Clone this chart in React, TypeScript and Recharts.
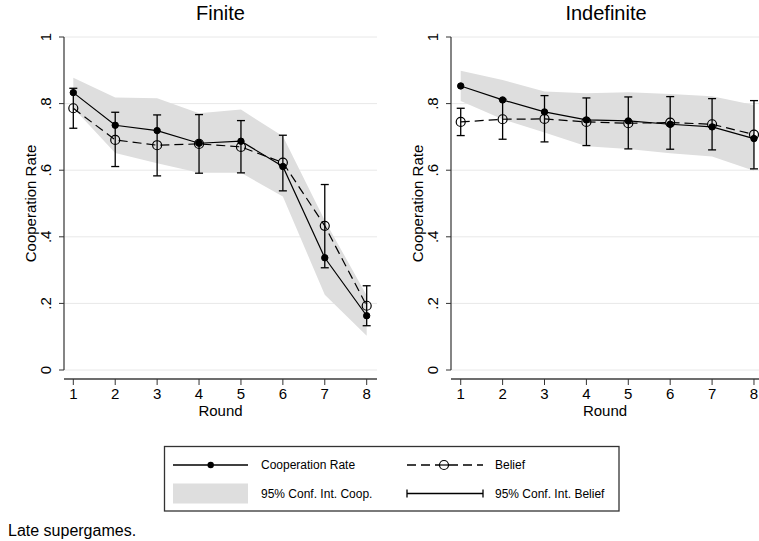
import {
  Area,
  CartesianGrid,
  ComposedChart,
  ErrorBar,
  Label,
  Line,
  ReferenceLine,
  XAxis,
  YAxis,
} from "recharts";

const rounds = [1, 2, 3, 4, 5, 6, 7, 8];
const yTicks = [0, 0.2, 0.4, 0.6, 0.8, 1];

// Finite horizon
const finiteCoop = [0.833, 0.735, 0.719, 0.681, 0.687, 0.611, 0.337, 0.163];
const finiteCoopLow = [0.787, 0.652, 0.621, 0.592, 0.592, 0.521, 0.226, 0.103];
const finiteCoopHigh = [0.878, 0.818, 0.816, 0.771, 0.782, 0.702, 0.449, 0.224];
const finiteBelief = [0.786, 0.691, 0.675, 0.679, 0.67, 0.623, 0.433, 0.193];
const finiteBeliefLow = [0.726, 0.611, 0.583, 0.591, 0.592, 0.538, 0.307, 0.133];
const finiteBeliefHigh = [0.846, 0.774, 0.766, 0.767, 0.749, 0.705, 0.557, 0.253];

// Indefinite horizon
const indefCoop = [0.853, 0.811, 0.775, 0.751, 0.748, 0.738, 0.73, 0.695];
const indefCoopLow = [0.808, 0.753, 0.713, 0.672, 0.664, 0.651, 0.641, 0.598];
const indefCoopHigh = [0.899, 0.871, 0.836, 0.831, 0.834, 0.829, 0.822, 0.796];
const indefBelief = [0.745, 0.753, 0.754, 0.745, 0.741, 0.743, 0.738, 0.707];
const indefBeliefLow = [0.704, 0.693, 0.685, 0.674, 0.664, 0.663, 0.661, 0.604];
const indefBeliefHigh = [0.786, 0.813, 0.824, 0.817, 0.82, 0.821, 0.815, 0.809];

const FONT = '"Liberation Sans", Arial, Helvetica, sans-serif';
const Y_MIN = -0.027; // small gap between y=0 and the x axis line
const BAND = "#dedede";

function buildRows(
  coop: number[],
  coopLow: number[],
  coopHigh: number[],
  belief: number[],
  beliefLow: number[],
  beliefHigh: number[]
) {
  return rounds.map((round, i) => ({
    round,
    coop: coop[i],
    band: [coopLow[i], coopHigh[i]],
    belief: belief[i],
    beliefErr: [belief[i] - beliefLow[i], beliefHigh[i] - belief[i]],
  }));
}

const finiteRows = buildRows(
  finiteCoop,
  finiteCoopLow,
  finiteCoopHigh,
  finiteBelief,
  finiteBeliefLow,
  finiteBeliefHigh
);
const indefRows = buildRows(
  indefCoop,
  indefCoopLow,
  indefCoopHigh,
  indefBelief,
  indefBeliefLow,
  indefBeliefHigh
);

const fmtY = (v: number) => (v === 0 || v === 1 ? String(v) : String(v).replace(/^0/, ""));

const YTick = (props: any) => {
  const { x, y, payload } = props;
  return (
    <text
      transform={`translate(${x - 6}, ${y}) rotate(-90)`}
      textAnchor="middle"
      fontSize={15}
      fill="#000"
    >
      {fmtY(payload.value)}
    </text>
  );
};

const YLabel = (props: any) => {
  const vb = props.viewBox || { x: 0, y: 0, width: 0, height: 0 };
  const xc = vb.x + vb.width - 33.5;
  const yc = vb.y + (0.5 / (1 - Y_MIN)) * vb.height;
  return (
    <text
      transform={`translate(${xc + 5.3}, ${yc}) rotate(-90)`}
      textAnchor="middle"
      fontSize={15}
      fill="#000"
    >
      Cooperation Rate
    </text>
  );
};

interface PanelProps {
  rows: ReturnType<typeof buildRows>;
  left: number;
  width: number;
  axisWidth: number;
  marginRight: number;
  xDomain: [number, number];
}

function Panel({ rows, left, width, axisWidth, marginRight, xDomain }: PanelProps) {
  return (
    <div style={{ position: "absolute", left, top: 0 }}>
      <ComposedChart
        width={width}
        height={420}
        data={rows}
        margin={{ top: 37, right: marginRight, bottom: 0, left: 0 }}
      >
        <CartesianGrid horizontal vertical={false} stroke="#e8e8e8" />
        <XAxis
          dataKey="round"
          type="number"
          domain={xDomain}
          allowDataOverflow
          ticks={rounds}
          interval={0}
          height={41}
          tickSize={6}
          tickMargin={3}
          axisLine={{ stroke: "#6e6e6e", strokeWidth: 2 }}
          tickLine={{ stroke: "#333" }}
          tick={{ fontSize: 15, fill: "#000" }}
        >
          <Label value="Round" position="insideBottom" offset={4} style={{ fontSize: 15, fill: "#000" }} />
        </XAxis>
        <YAxis
          type="number"
          domain={[Y_MIN, 1]}
          allowDataOverflow
          ticks={yTicks}
          interval={0}
          width={axisWidth}
          axisLine={false}
          tickSize={5}
          tickLine={{ stroke: "#333" }}
          tick={(p: any) => <YTick {...p} />}
        >
          <Label content={(p: any) => <YLabel {...p} />} />
        </YAxis>
        <ReferenceLine
          segment={[
            { x: xDomain[0], y: 0 },
            { x: xDomain[0], y: 1 },
          ]}
          stroke="#333"
          strokeWidth={1.2}
        />
        <Area
          type="linear"
          dataKey="band"
          stroke="none"
          fill={BAND}
          fillOpacity={1}
          isAnimationActive={false}
          activeDot={false}
        />
        <Line
          type="linear"
          dataKey="belief"
          stroke="#000"
          strokeWidth={1.2}
          strokeDasharray="9 5"
          dot={{ r: 4.5, fill: "none", stroke: "#000", strokeWidth: 1.2, strokeDasharray: "0" }}
          activeDot={false}
          isAnimationActive={false}
        >
          <ErrorBar dataKey="beliefErr" direction="y" width={4} stroke="#000" strokeWidth={1.3} />
        </Line>
        <Line
          type="linear"
          dataKey="coop"
          stroke="#000"
          strokeWidth={1.2}
          dot={{ r: 3.2, fill: "#000", stroke: "#000", strokeWidth: 1 }}
          activeDot={false}
          isAnimationActive={false}
        />
      </ComposedChart>
    </div>
  );
}

export default function App() {
  return (
    <div
      style={{
        position: "absolute",
        left: 0,
        top: 0,
        width: 759,
        height: 541,
        background: "#fff",
        fontFamily: FONT,
        overflow: "hidden",
      }}
    >
      <Panel rows={finiteRows} left={0} width={380} axisWidth={64} marginRight={3} xDomain={[0.778, 8.246]} />
      <Panel rows={indefRows} left={380} width={379} axisWidth={71} marginRight={0} xDomain={[0.768, 8.12]} />
      <svg
        width={759}
        height={541}
        style={{ position: "absolute", left: 0, top: 0, pointerEvents: "none" }}
        fontFamily={FONT}
      >
        <text x={220.5} y={20} textAnchor="middle" fontSize={20} fill="#000">
          Finite
        </text>
        <text x={606} y={20} textAnchor="middle" fontSize={20} fill="#000">
          Indefinite
        </text>

        <rect x={164.5} y={446.5} width={454.5} height={64.5} fill="#fff" stroke="#333" strokeWidth={1.3} />
        <line x1={173} x2={248} y1={465} y2={465} stroke="#000" strokeWidth={1.3} />
        <circle cx={210.7} cy={465} r={3.2} fill="#000" />
        <text x={261} y={469.3} fontSize={12} fill="#000">
          Cooperation Rate
        </text>
        <line x1={407} x2={483} y1={465} y2={465} stroke="#000" strokeWidth={1.3} strokeDasharray="9 5" />
        <circle cx={444} cy={465} r={4.5} fill="#fff" stroke="#000" strokeWidth={1.2} />
        <line x1={439.5} x2={448.5} y1={465} y2={465} stroke="#000" strokeWidth={1.2} />
        <text x={495} y={469.3} fontSize={12} fill="#000">
          Belief
        </text>

        <rect x={173} y={483.5} width={75} height={20} fill={BAND} />
        <text x={261} y={497.5} fontSize={12} fill="#000">
          95% Conf. Int. Coop.
        </text>
        <line x1={407} x2={483} y1={493.5} y2={493.5} stroke="#000" strokeWidth={1.3} />
        <line x1={407} x2={407} y1={489.5} y2={497.5} stroke="#000" strokeWidth={1.3} />
        <line x1={483} x2={483} y1={489.5} y2={497.5} stroke="#000" strokeWidth={1.3} />
        <text x={495} y={497.5} fontSize={12} fill="#000">
          95% Conf. Int. Belief
        </text>

        <text x={8} y={536} fontSize={16} fill="#000">
          Late supergames.
        </text>
      </svg>
    </div>
  );
}
